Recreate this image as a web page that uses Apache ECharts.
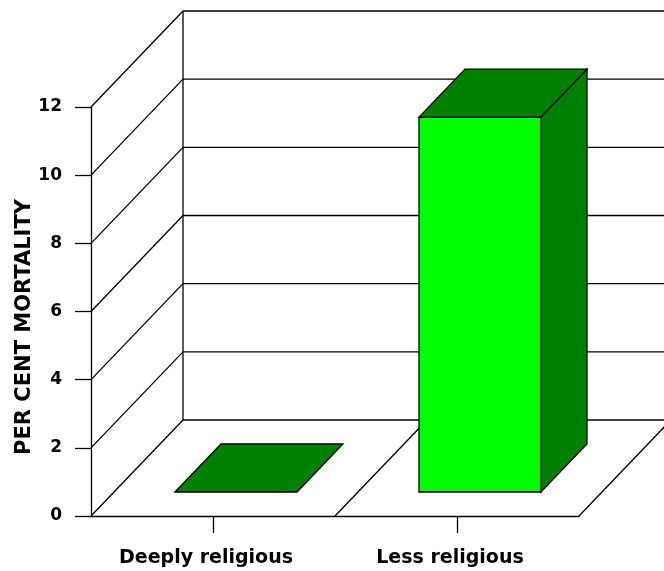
<!DOCTYPE html>
<html><head><meta charset="utf-8">
<script src="https://cdn.jsdelivr.net/npm/echarts@6/dist/echarts.min.js"></script>
<style>html,body{margin:0;padding:0;background:#fff}#c{width:664px;height:571px}</style>
</head><body><div id="c"></div>
<script>
const categories = ['Deeply religious', 'Less religious'];
const mortality = [0, 11.0];
const yTicks = [0, 2, 4, 6, 8, 10, 12];
const yTitle = 'PER CENT MORTALITY';

const DEPTH = [92, -96];        // full floor depth offset in px
const BAR_FRONT = 0.25, BAR_BACK = 0.75;
const FRONT = '#00ff00', DARK = '#008000', LINE = '#000';
const LW = 1.3;
const FONT = '"DejaVu Sans", Arial, sans-serif';

const chart = echarts.init(document.getElementById('c'), null, {renderer: 'canvas'});

function wallItem(params, api) {
  const v = api.value(1);
  const cs = params.coordSys;
  const y = api.coord([0, v])[1];
  const x0 = cs.x, x1 = cs.x + cs.width;
  const bx = x0 + DEPTH[0], by = y + DEPTH[1];
  const st = {stroke: LINE, lineWidth: LW};
  const children = [
    {type: 'line', shape: {x1: x0, y1: y, x2: bx, y2: by}, style: st},
    {type: 'line', shape: {x1: bx, y1: by, x2: x1 + DEPTH[0], y2: by}, style: st}
  ];
  if (params.dataIndex === 0) {
    const band = api.size([1, 0])[0];
    for (let i = 1; i <= categories.length; i++) {
      const x = x0 + i * band;
      children.push({type: 'line', shape: {x1: x, y1: y, x2: x + DEPTH[0], y2: y + DEPTH[1]}, style: st});
    }
    const ytop = api.coord([0, yTicks[yTicks.length - 1]])[1] + DEPTH[1];
    children.push({type: 'line', shape: {x1: bx, y1: by, x2: bx, y2: ytop}, style: st});
  }
  return {type: 'group', children};
}

function barItem(params, api) {
  const i = api.value(0), v = api.value(1);
  const c = api.coord([i, 0]);
  const t = api.coord([i, v]);
  const band = api.size([1, 0])[0];
  const w = band / 2;
  const fx = c[0] - w / 2 + DEPTH[0] * BAR_FRONT;
  const fyb = c[1] + DEPTH[1] * BAR_FRONT;
  const fyt = t[1] + DEPTH[1] * BAR_FRONT;
  const dx = DEPTH[0] * (BAR_BACK - BAR_FRONT), dy = DEPTH[1] * (BAR_BACK - BAR_FRONT);
  const st = (f) => ({fill: f, stroke: LINE, lineWidth: LW});
  const children = [];
  if (fyb - fyt > 0.5) {
    children.push({type: 'polygon', shape: {points: [[fx + w, fyt], [fx + w + dx, fyt + dy], [fx + w + dx, fyb + dy], [fx + w, fyb]]}, style: st(DARK)});
    children.push({type: 'rect', shape: {x: fx, y: fyt, width: w, height: fyb - fyt}, style: st(FRONT)});
  }
  children.push({type: 'polygon', shape: {points: [[fx, fyt], [fx + dx, fyt + dy], [fx + w + dx, fyt + dy], [fx + w, fyt]]}, style: st(DARK)});
  return {type: 'group', children};
}

chart.setOption({
  animation: false,
  backgroundColor: '#fff',
  grid: {left: 91, top: 107, width: 488, height: 409},
  xAxis: {
    type: 'category', data: categories, boundaryGap: true,
    axisLine: {show: true, lineStyle: {color: LINE, width: LW}},
    axisTick: {show: true, alignWithLabel: true, length: 17, lineStyle: {color: LINE, width: LW}},
    axisLabel: {color: '#000', fontSize: 19, fontWeight: 'bold', fontFamily: FONT, margin: 33, padding: [0, 14, 0, 0]},
    splitLine: {show: false}
  },
  yAxis: {
    type: 'value', min: 0, max: 12, interval: 2,
    axisLine: {show: true, lineStyle: {color: LINE, width: LW}},
    axisTick: {show: true, length: 16, lineStyle: {color: LINE, width: LW}},
    axisLabel: {color: '#000', fontSize: 17, fontWeight: 'bold', fontFamily: FONT, margin: 29},
    splitLine: {show: false}
  },
  graphic: [{
    type: 'text', x: 25, y: 327, rotation: Math.PI / 2,
    style: {text: yTitle, fill: '#000', fontSize: 21, fontWeight: 'bold', fontFamily: FONT, align: 'center', verticalAlign: 'middle'}
  }],
  series: [
    {type: 'custom', renderItem: wallItem, data: yTicks.map(v => [0, v]), encode: {x: 0, y: 1}, z: 1, silent: true},
    {type: 'custom', renderItem: barItem, data: mortality.map((v, i) => [i, v]), encode: {x: 0, y: 1}, z: 3}
  ]
});
</script>
</body></html>
